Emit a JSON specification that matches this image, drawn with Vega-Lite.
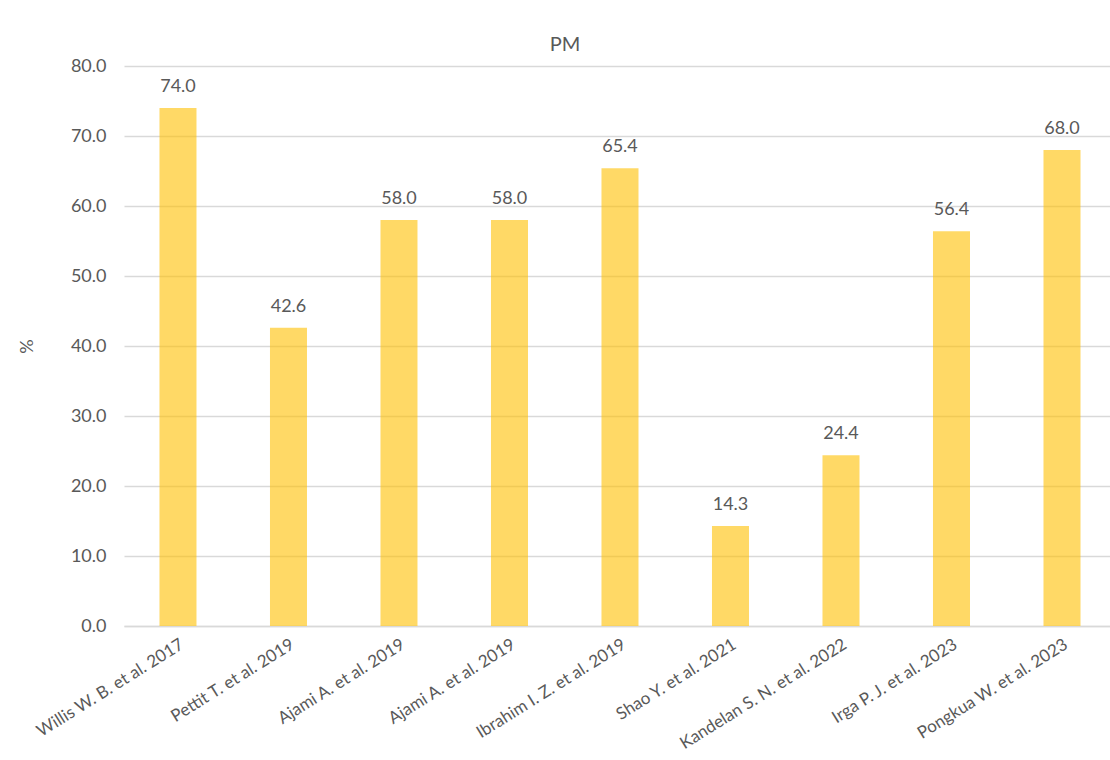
{
  "$schema": "https://vega.github.io/schema/vega-lite/v6.json",
  "width": 986,
  "height": 560,
  "autosize": {"type": "none"},
  "padding": {"left": 124, "top": 66, "right": 0, "bottom": 134},
  "background": "white",
  "title": {"text": "PM", "fontSize": 20, "font": "Lato", "fontWeight": "normal", "color": "#595959", "anchor": "middle", "dx": -52, "offset": 2},
  "data": {"values": [
    {"study": "Willis W. B. et al. 2017|1", "value": 74.0},
    {"study": "Pettit T. et al. 2019|2", "value": 42.6},
    {"study": "Ajami A. et al. 2019|3", "value": 58.0},
    {"study": "Ajami A. et al. 2019|4", "value": 58.0},
    {"study": "Ibrahim I. Z. et al. 2019|5", "value": 65.4},
    {"study": "Shao Y. et al. 2021|6", "value": 14.3},
    {"study": "Kandelan S. N. et al. 2022|7", "value": 24.4},
    {"study": "Irga P. J. et al. 2023|8", "value": 56.4},
    {"study": "Pongkua W. et al. 2023|9", "value": 68.0}
  ]},
  "encoding": {
    "x": {"field": "study", "type": "nominal", "sort": null,
      "scale": {"paddingInner": 0.665, "paddingOuter": 0.294, "align": 0.546},
      "axis": {"title": null, "labelExpr": "split(datum.label, '|')[0]", "labelLimit": 0, "labelAngle": -32, "labelFont": "Lato", "labelFontSize": 17, "labelColor": "#595959", "ticks": false, "labelPadding": 10, "domainColor": "#D9D9D9", "domainWidth": 1.5, "grid": false}},
    "y": {"field": "value", "type": "quantitative",
      "scale": {"domain": [0, 80]},
      "axis": {"title": "%", "titleFont": "Lato", "titleFontSize": 18, "titleFontWeight": "normal", "titleColor": "#595959", "titleAngle": -90, "titleX": -88, "titleY": 280, "values": [0, 10, 20, 30, 40, 50, 60, 70, 80], "format": ".1f", "labelFont": "Lato", "labelFontSize": 18, "labelColor": "#595959", "labelPadding": 18, "ticks": false, "domain": false, "gridColor": "#D9D9D9", "gridWidth": 1.5}}
  },
  "layer": [
    {"mark": {"type": "bar", "color": "#FFC000", "opacity": 0.6}},
    {"mark": {"type": "text", "baseline": "bottom", "dy": -12, "font": "Lato", "fontSize": 18, "color": "#595959"},
     "encoding": {"text": {"field": "value", "type": "quantitative", "format": ".1f"}}}
  ],
  "config": {"view": {"stroke": null}}
}
